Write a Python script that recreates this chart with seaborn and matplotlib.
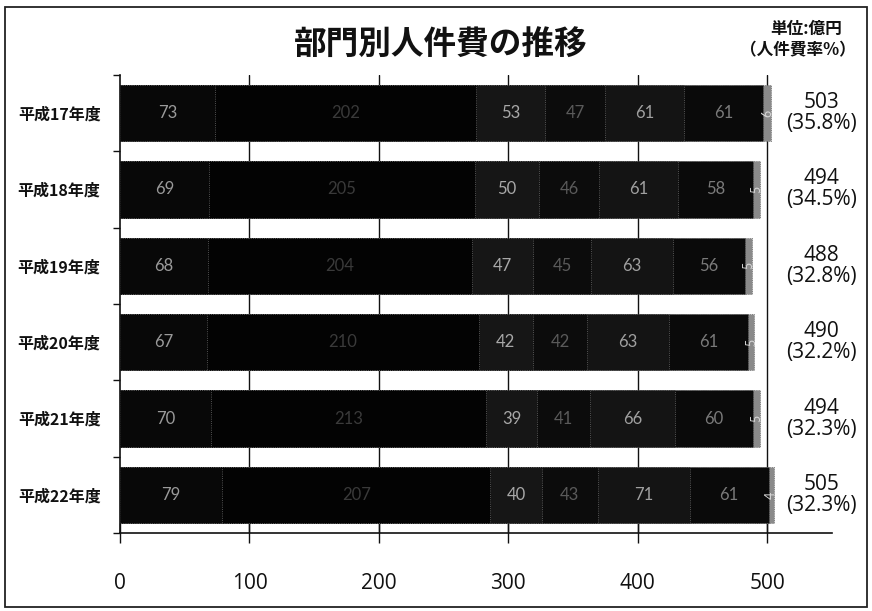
import numpy as np
import pandas as pd
import matplotlib
matplotlib.use("Agg")
import matplotlib.pyplot as plt
import seaborn as sns
from matplotlib.patches import Rectangle

# Fiscal years (rows, top to bottom)
years = ["平成17年度", "平成18年度", "平成19年度", "平成20年度", "平成21年度", "平成22年度"]

# Personnel cost by department (億円), seven segments per year
seg1 = [73, 69, 68, 67, 70, 79]
seg2 = [202, 205, 204, 210, 213, 207]
seg3 = [53, 50, 47, 42, 39, 40]
seg4 = [47, 46, 45, 42, 41, 43]
seg5 = [61, 61, 63, 63, 66, 71]
seg6 = [61, 58, 56, 61, 60, 61]
seg7 = [6, 5, 5, 5, 5, 4]

totals = [503, 494, 488, 490, 494, 505]
ratios = ["35.8%", "34.5%", "32.8%", "32.2%", "32.3%", "32.3%"]

x_ticks = [0, 100, 200, 300, 400, 500]

segments = [seg1, seg2, seg3, seg4, seg5, seg6, seg7]
fills = ["#080808", "#030303", "#161616", "#0c0c0c", "#141414", "#0a0a0a", "#8a8a8a"]
label_colors = ["#9a9a9a", "#3a3a3a", "#a8a8a8", "#5a5a5a", "#a0a0a0", "#7a7a7a", "#d8d8d8"]

sns.set_theme(style="white")
plt.rcParams["font.family"] = ["Noto Sans CJK JP", "DejaVu Sans"]

fig = plt.figure(figsize=(8.72, 6.11), dpi=100)
ax = fig.add_axes([120 / 872, 78 / 611, 712 / 872, 458 / 611])

vals = np.array(segments, dtype=float)          # shape (7, n_years)
cum = np.cumsum(vals, axis=0)

# Draw cumulative layers from the outermost inwards so each segment shows
for k in range(len(segments) - 1, -1, -1):
    df = pd.DataFrame({"year": years, "value": cum[k]})
    sns.barplot(data=df, x="value", y="year", order=years, orient="h",
                color=fills[k], saturation=1, width=0.74,
                edgecolor="#6a6a6a", linewidth=0.6, ax=ax)

for p in ax.patches:
    p.set_clip_on(False)
    p.set_linestyle(":")

# Segment value labels
for k, seg in enumerate(segments):
    for i, v in enumerate(seg):
        xc = cum[k][i] - v / 2
        fs = 9 if k == 6 else 12
        ax.text(xc, i, f"{v}", ha="center", va="center", fontsize=fs,
                color=label_colors[k], family=["Lato", "DejaVu Sans"],
                rotation=90 if k == 6 else 0, zorder=5, clip_on=False)

# Total and personnel cost ratio to the right of each bar
for i, (t, r) in enumerate(zip(totals, ratios)):
    ax.text(542, i, f"{t}\n({r})", ha="center", va="center", fontsize=15,
            color="#111111", family=["Open Sans", "DejaVu Sans"],
            linespacing=1.0, clip_on=False)

ax.set_xlim(0, 550)
ax.set_ylim(5.5, -0.5)
ax.set_xticks(x_ticks)
ax.set_xticklabels([str(t) for t in x_ticks], fontsize=15,
                   family=["Open Sans", "DejaVu Sans"], color="#111111")
ax.set_yticks(range(len(years)))
ax.set_yticklabels(years, fontsize=11.5, fontweight="bold", color="#111111")
ax.set_xlabel("")
ax.set_ylabel("")

# Vertical gridlines behind the bars
ax.set_axisbelow(True)
for t in x_ticks[1:]:
    ax.axvline(t, color="#111111", linewidth=1.0, zorder=0)

for side in ["top", "right"]:
    ax.spines[side].set_visible(False)
for side in ["left", "bottom"]:
    ax.spines[side].set_color("#111111")
    ax.spines[side].set_linewidth(1.2)

ax.tick_params(axis="x", which="major", direction="inout", length=14,
               width=1.0, color="#111111", pad=22, bottom=True)
ax.tick_params(axis="y", which="major", length=0, pad=14)
ax.set_yticks(np.arange(-0.5, 6.0, 1.0), minor=True)
ax.tick_params(axis="y", which="minor", direction="out", length=5,
               width=1.0, color="#111111", left=True)

# Title and unit note
fig.text(0.505, 0.925, "部門別人件費の推移", ha="center", va="center",
         fontsize=23.5, fontweight="bold", color="#111111")
fig.text(0.924, 0.953, "単位:億円", ha="center", va="center",
         fontsize=12, fontweight="bold", color="#111111")
fig.text(0.915, 0.917, "（人件費率%）", ha="center", va="center",
         fontsize=12, fontweight="bold", color="#111111")

# Chart frame
fig.patches.append(Rectangle((5 / 872, 4 / 611), 862 / 872, 600 / 611,
                             transform=fig.transFigure, fill=False,
                             edgecolor="#222222", linewidth=1.3))

fig.savefig("out.png", dpi=100, facecolor="white")
